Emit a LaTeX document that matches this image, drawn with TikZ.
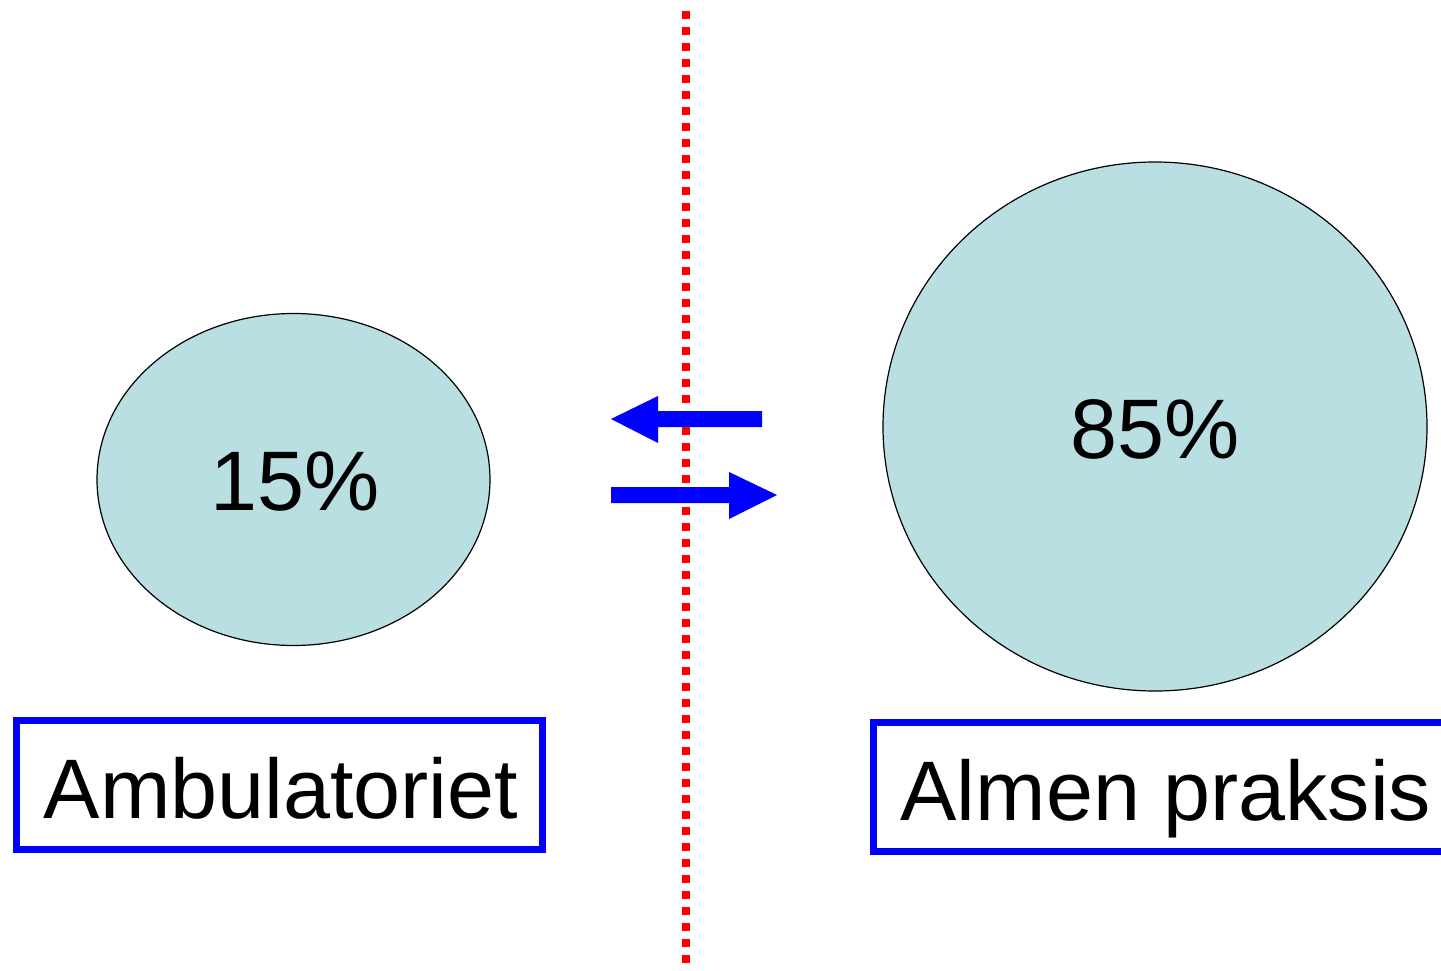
\documentclass[tikz,border=0pt]{standalone}
\usepackage{fontspec}
\setmainfont{Liberation Sans}
\definecolor{circfill}{RGB}{186,223,227}
\definecolor{pureblue}{RGB}{0,0,255}
\definecolor{purered}{RGB}{255,0,0}
\begin{document}
\begin{tikzpicture}[x=1pt,y=-1pt,
  blob/.style={draw=black, line width=1.2pt, fill=circfill},
  bigtext/.style={font=\fontsize{84.5}{100}\selectfont, text=black},
  frame/.style={draw=pureblue, line width=7pt},
  arrowfill/.style={fill=pureblue},
  divider/.style={draw=purered, line width=8pt, dash pattern=on 8pt off 8pt}
]
\useasboundingbox (0,0) rectangle (1441,971);
\clip (0,0) rectangle (1441,971);
% divider
\coordinate (dtop) at (686,11);
\coordinate (dbot) at (686,971);
\draw[divider] (dtop) -- (dbot);
% ellipses
\draw[blob] (293.5,479.5) ellipse [x radius=196.5, y radius=166];
\draw[blob] (1155,426.5) ellipse [x radius=272, y radius=264.5];
\node[bigtext, anchor=base] (p15) at (295,510) {15\%};
\node[bigtext, anchor=base] (p85) at (1155,458) {85\%};
% arrows
\fill[arrowfill] (611,419) -- (658,396) -- (658,411) -- (762,411) -- (762,427) -- (658,427) -- (658,443) -- cycle;
\fill[arrowfill] (777,495) -- (729,472) -- (729,487) -- (611,487) -- (611,503) -- (729,503) -- (729,519) -- cycle;
% boxes
\draw[frame] (16,720) rectangle (542,849);
\node[bigtext, anchor=base] (amb) at (281,818) {Ambulatoriet};
\draw[frame] (1460,722) -- (873,722) -- (873,851) -- (1460,851);
\node[bigtext, anchor=base west] (alm) at (897,820) {Almen praksis};
\end{tikzpicture}
\end{document}
